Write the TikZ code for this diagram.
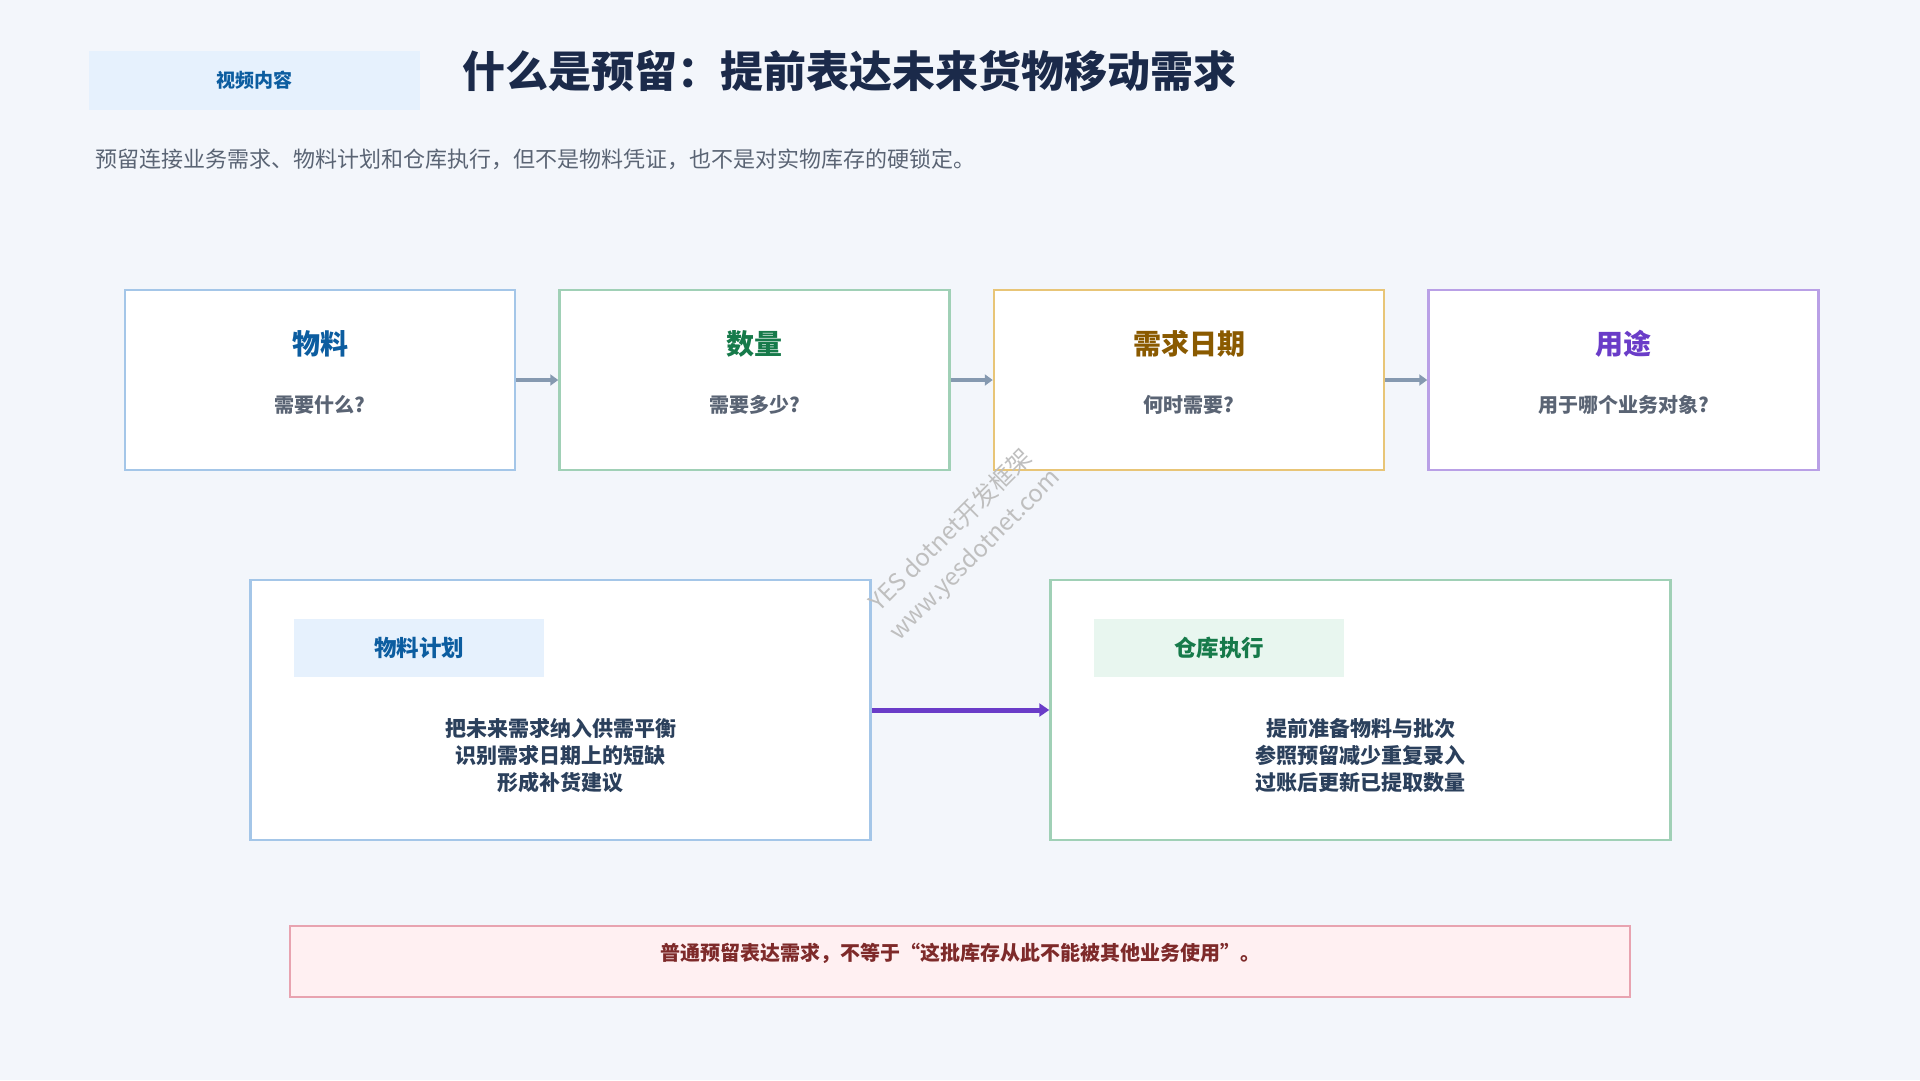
\documentclass[tikz,border=0pt]{standalone}
\usepackage{fontspec}
\setmainfont{Noto Sans CJK SC}
\usetikzlibrary{arrows.meta,positioning}
\definecolor{bg}{HTML}{F3F6FB}
\definecolor{navy}{HTML}{1B2A4A}
\definecolor{muted}{HTML}{5A6474}
\definecolor{ink}{HTML}{2B405C}
\definecolor{matblue}{HTML}{0C5DA0}
\definecolor{matline}{HTML}{A4C6E8}
\definecolor{qtygreen}{HTML}{167A4A}
\definecolor{qtyline}{HTML}{A0D0B6}
\definecolor{dategold}{HTML}{8A5A00}
\definecolor{dateline}{HTML}{E8C577}
\definecolor{usepurple}{HTML}{6A3CC8}
\definecolor{useline}{HTML}{B9A0E6}
\definecolor{tagblue}{HTML}{E6F1FD}
\definecolor{taggreen}{HTML}{E8F6EF}
\definecolor{notefill}{HTML}{FFF0F2}
\definecolor{noteline}{HTML}{E8A3B0}
\definecolor{notered}{HTML}{7E2A2A}
\definecolor{flowgray}{HTML}{8599B0}

\begin{document}
\begin{tikzpicture}[
    x=1pt, y=-1pt,
    node distance=42pt,
    card/.style={rectangle, draw=#1, line width=2.5pt, fill=white,
                 minimum width=390pt, minimum height=180pt, inner sep=0pt},
    wide/.style={rectangle, draw=#1, line width=2.5pt, fill=white,
                 minimum width=620pt, minimum height=260pt, inner sep=0pt},
    head/.style={font=\fontsize{28}{33}\selectfont\bfseries\color{#1}},
    ask/.style={font=\fontsize{20}{24}\selectfont\bfseries\color{muted}},
    tag/.style={rectangle, fill=#1, minimum width=250pt, minimum height=58pt,
                inner sep=0pt},
    body/.style={align=center, font=\fontsize{21}{27}\selectfont\bfseries\color{ink}},
    arrow/.style={-{Triangle[length=8pt, width=11pt]}, line width=4pt, flowgray},
    handoff/.style={-{Triangle[length=10pt, width=13pt]}, line width=5pt, usepurple}
]
% Background
\fill[bg] (0,0) rectangle (1920,1080);

% Header
\node[tag=tagblue, minimum width=331pt, minimum height=59pt,
      font=\fontsize{19}{23}\selectfont\bfseries\color{matblue}] (tagvideo) at (254.5,80.5) {视频内容};
\node[anchor=west, inner sep=0pt, font=\fontsize{43}{50}\selectfont\bfseries\color{navy}]
    (title) at (462,71) {什么是预留：提前表达未来货物移动需求};
\node[anchor=west, inner sep=0pt, font=\fontsize{22}{26}\selectfont\color{muted}]
    (subtitle) at (95,159) {预留连接业务需求、物料计划和仓库执行，但不是物料凭证，也不是对实物库存的硬锁定。};

% Row 1: reservation fields
\node[card=matline] (mat) at (320,380) {};
\node[card=qtyline, right=of mat] (qty) {};
\node[card=dateline, right=of qty] (date) {};
\node[card=useline, right=of date] (use) {};

\node[head=matblue] (mathead) at ([yshift=36pt]mat.center) {物料};
\node[ask] (matask) at ([yshift=-25pt]mat.center) {需要什么?};
\node[head=qtygreen] (qtyhead) at ([yshift=36pt]qty.center) {数量};
\node[ask] (qtyask) at ([yshift=-25pt]qty.center) {需要多少?};
\node[head=dategold] (datehead) at ([yshift=36pt]date.center) {需求日期};
\node[ask] (dateask) at ([yshift=-25pt]date.center) {何时需要?};
\node[head=usepurple] (usehead) at ([yshift=36pt]use.center) {用途};
\node[ask] (useask) at ([yshift=-25pt]use.center) {用于哪个业务对象?};

\draw[arrow] (mat) -- (qty);
\draw[arrow] (qty) -- (date);
\draw[arrow] (date) -- (use);

% Row 2: planning and warehouse
\node[wide=matline] (plan) at (560.5,710) {};
\node[wide=qtyline] (wh) at (1360.5,710) {};

\node[tag=tagblue, anchor=north west, font=\fontsize{22.5}{26}\selectfont\bfseries\color{matblue}]
    (plantag) at ([xshift=45pt, yshift=-40pt]plan.north west) {物料计划};
\node[tag=taggreen, anchor=north west, font=\fontsize{22.5}{26}\selectfont\bfseries\color{qtygreen}]
    (whtag) at ([xshift=45pt, yshift=-40pt]wh.north west) {仓库执行};

\node[body] (planbody) at ([yshift=-46pt]plan.center) {把未来需求纳入供需平衡\\识别需求日期上的短缺\\形成补货建议};
\node[body] (whbody) at ([yshift=-46pt]wh.center) {提前准备物料与批次\\参照预留减少重复录入\\过账后更新已提取数量};

\draw[handoff] (plan) -- (wh);

% Note
\node[rectangle, draw=noteline, line width=2.5pt, fill=notefill,
      minimum width=1340pt, minimum height=71pt] (note) at (960,961.5) {};
\node[font=\fontsize{20}{24}\selectfont\bfseries\color{notered}] (notetext)
    at ([yshift=8pt]note.center) {普通预留表达需求，不等于“这批库存从此不能被其他业务使用”。};

% Watermark
\node[rotate=45, align=center, text=black!25,
      font=\fontsize{24}{34}\selectfont] (mark) at (963,543) {YES dotnet开发框架\\www.yesdotnet.com};
\end{tikzpicture}
\end{document}
